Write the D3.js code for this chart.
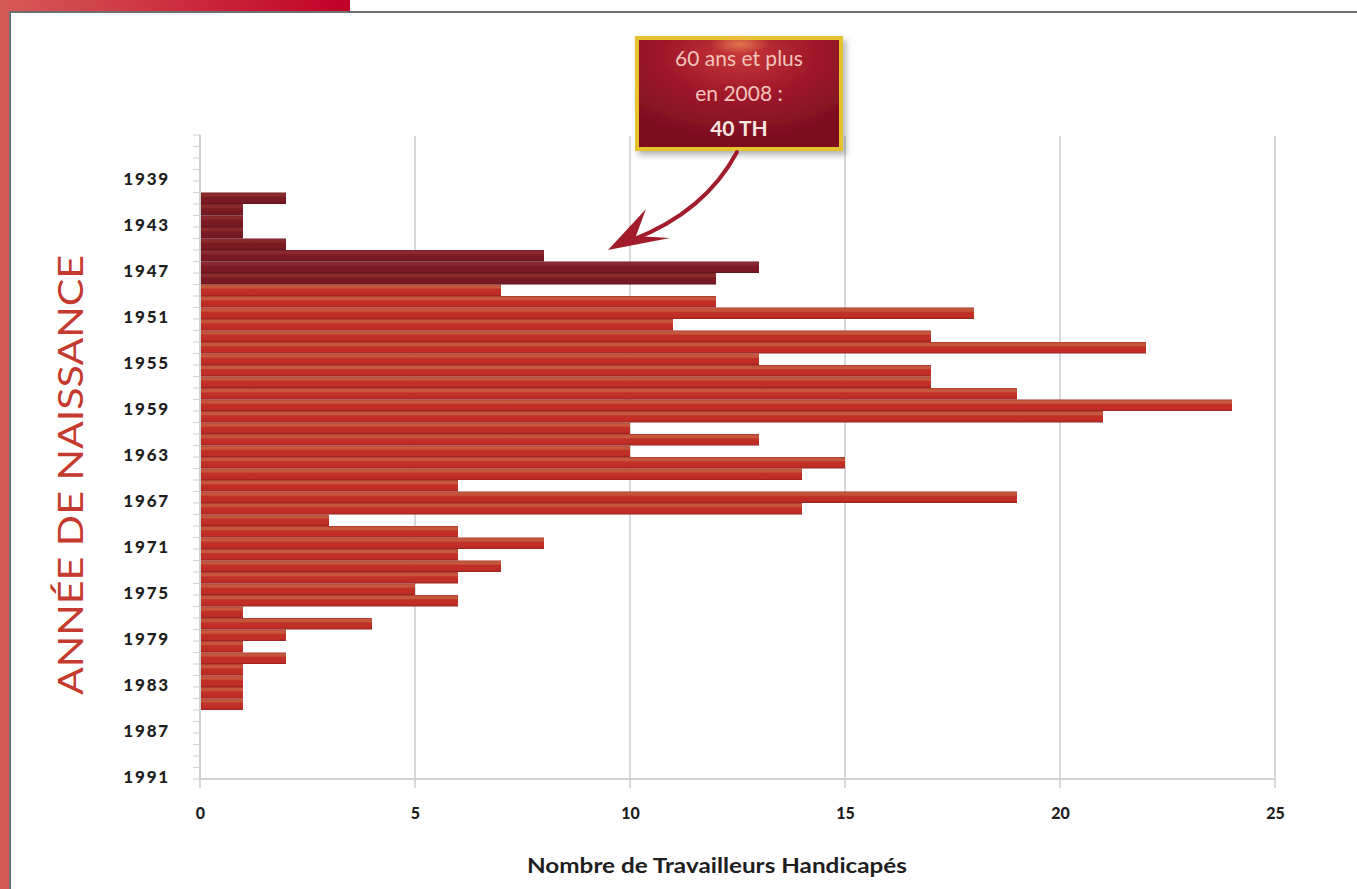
<!DOCTYPE html>
<html>
<head>
<meta charset="utf-8">
<script src="https://cdn.jsdelivr.net/npm/d3@7"></script>
<style>
  html, body { margin: 0; padding: 0; background: #ffffff; }
  svg { display: block; }
</style>
</head>
<body>
<svg id="chart" width="1357" height="889"></svg>
<script>
// ---------- DATA ----------
const categories = [1936,1937,1938,1939,1940,1941,1942,1943,1944,1945,1946,1947,1948,1949,1950,
  1951,1952,1953,1954,1955,1956,1957,1958,1959,1960,1961,1962,1963,1964,1965,1966,1967,1968,
  1969,1970,1971,1972,1973,1974,1975,1976,1977,1978,1979,1980,1981,1982,1983,1984,1985,1986,
  1987,1988,1989,1990,1991];
const yTickLabels = [1939,1943,1947,1951,1955,1959,1963,1967,1971,1975,1979,1983,1987,1991];
const xTickValues = [0,5,10,15,20,25];

// "60 ans et plus en 2008" (born 1948 or earlier)
const seniorYears  = [1941,1942,1943,1944,1945,1946,1947,1948];
const seniorValues = [2,1,1,1,2,8,13,12];

// other workers
const otherYears  = [1949,1950,1951,1952,1953,1954,1955,1956,1957,1958,1959,1960,1961,1962,
  1963,1964,1965,1966,1967,1968,1969,1970,1971,1972,1973,1974,1975,1976,1977,1978,1979,1980,
  1981,1982,1983,1984,1985];
const otherValues = [7,12,18,11,17,22,13,17,17,19,24,21,10,13,10,15,14,6,19,14,3,6,8,6,7,6,5,6,
  1,4,2,1,2,1,1,1,1];

const calloutLines = ["60 ans et plus", "en 2008 :", "40 TH"];
const xTitle = "Nombre de Travailleurs Handicapés";
const yTitle = "ANNÉE DE NAISSANCE";

// ---------- DRAW ----------
const svg = d3.select("#chart");
const defs = svg.append("defs");

// frame decorations
const topGrad = defs.append("linearGradient").attr("id","topGrad").attr("x1","0").attr("x2","1").attr("y1","0").attr("y2","0");
topGrad.append("stop").attr("offset","0%").attr("stop-color","#d65b58");
topGrad.append("stop").attr("offset","100%").attr("stop-color","#c10027");

svg.append("rect").attr("x",0).attr("y",0).attr("width",9).attr("height",889).attr("fill","#d45a58");
svg.append("rect").attr("x",0).attr("y",0).attr("width",350).attr("height",11).attr("fill","url(#topGrad)");
svg.append("rect").attr("x",9).attr("y",11).attr("width",1348).attr("height",2).attr("fill","#6e6e6e");
svg.append("rect").attr("x",9).attr("y",11).attr("width",2).attr("height",878).attr("fill","#6e6e6e");

// bar gradients
function barGrad(id, stops){
  const g = defs.append("linearGradient").attr("id",id).attr("x1","0").attr("x2","0").attr("y1","0").attr("y2","1");
  stops.forEach(s => g.append("stop").attr("offset",s[0]).attr("stop-color",s[1]));
}
barGrad("redGrad", [["0%","#a32e28"],["10%","#c4553c"],["30%","#c5583d"],["42%","#c23127"],["85%","#bf2c26"],["100%","#922321"]]);
barGrad("darkGrad", [["0%","#6e1820"],["10%","#8a2b30"],["30%","#88292e"],["42%","#7a1b24"],["85%","#771a23"],["100%","#5e121b"]]);

const x = d3.scaleLinear().domain([0,25]).range([200,1275]);
const y = d3.scaleBand().domain(categories).range([135,779]).padding(0);

// grid lines
svg.append("g").selectAll("line").data(xTickValues).join("line")
  .attr("x1", d => x(d)).attr("x2", d => x(d))
  .attr("y1", 136).attr("y2", 788)
  .attr("stroke", "#d9d9d9").attr("stroke-width", 2);

// bottom axis line
svg.append("line").attr("x1", x(0)).attr("x2", x(25)).attr("y1", 779).attr("y2", 779)
  .attr("stroke", "#d2d2d2").attr("stroke-width", 2);

// y minor ticks
svg.append("g").selectAll("line").data(categories.concat(["end"])).join("line")
  .attr("x1", 193).attr("x2", 200)
  .attr("y1", d => d === "end" ? y.range()[1] : y(d))
  .attr("y2", d => d === "end" ? y.range()[1] : y(d))
  .attr("stroke", "#d6d6d6").attr("stroke-width", 1.2);

// bars
svg.append("g").selectAll("rect").data(otherYears.map((yr,i)=>({yr, v: otherValues[i]}))).join("rect")
  .attr("x", x(0)).attr("y", d => y(d.yr))
  .attr("width", d => x(d.v) - x(0)).attr("height", y.bandwidth())
  .attr("fill", "url(#redGrad)");
svg.append("g").selectAll("rect").data(seniorYears.map((yr,i)=>({yr, v: seniorValues[i]}))).join("rect")
  .attr("x", x(0)).attr("y", d => y(d.yr))
  .attr("width", d => x(d.v) - x(0)).attr("height", y.bandwidth())
  .attr("fill", "url(#darkGrad)");

// y-axis line
svg.append("line").attr("x1", 200).attr("x2", 200).attr("y1", 135).attr("y2", 779)
  .attr("stroke", "#cfcfcf").attr("stroke-width", 2);

// axes labels via d3 axes
const yAxis = d3.axisLeft(y).tickValues(yTickLabels).tickSize(0).tickPadding(30);
const gy = svg.append("g").attr("transform","translate(200,0)").call(yAxis);
gy.select(".domain").remove();
gy.selectAll("text")
  .attr("font-family","Lato, 'Open Sans', sans-serif").attr("font-weight","900")
  .attr("font-size", 17).attr("fill","#1e1e1e").attr("dy","0.55em")
  .attr("letter-spacing", 1.8);

const xAxis = d3.axisBottom(x).tickValues(xTickValues).tickSize(0).tickPadding(29);
const gx = svg.append("g").attr("transform","translate(0,779)").call(xAxis);
gx.select(".domain").remove();
gx.selectAll("text")
  .attr("font-family","Lato, 'Open Sans', sans-serif").attr("font-weight","900")
  .attr("font-size", 16).attr("fill","#1e1e1e");

// axis titles
svg.append("text").attr("x", 717).attr("y", 873).attr("text-anchor","middle")
  .attr("font-family","Lato, 'Open Sans', sans-serif").attr("font-weight","bold")
  .attr("font-size", 20).attr("fill","#1e1e1e")
  .attr("textLength", 380).attr("lengthAdjust","spacingAndGlyphs")
  .text(xTitle);

svg.append("text").attr("transform","translate(83,475) rotate(-90)").attr("text-anchor","middle")
  .attr("font-family","Lato, 'Open Sans', sans-serif").attr("font-weight","normal")
  .attr("font-size", 35).attr("fill","#c53a2e")
  .attr("textLength", 440).attr("lengthAdjust","spacingAndGlyphs")
  .text(yTitle);

// callout
const boxGrad = defs.append("radialGradient").attr("id","boxGrad").attr("cx","50%").attr("cy","15%").attr("r","75%");
boxGrad.append("stop").attr("offset","0%").attr("stop-color","#c8383a");
boxGrad.append("stop").attr("offset","45%").attr("stop-color","#a31a2c");
boxGrad.append("stop").attr("offset","100%").attr("stop-color","#7d0f1f");
const glow = defs.append("radialGradient").attr("id","glow").attr("cx","50%").attr("cy","50%").attr("r","50%");
glow.append("stop").attr("offset","0%").attr("stop-color","#ffb060").attr("stop-opacity",0.55);
glow.append("stop").attr("offset","100%").attr("stop-color","#ffb060").attr("stop-opacity",0);
const shadow = defs.append("filter").attr("id","sh").attr("x","-10%").attr("y","-10%").attr("width","130%").attr("height","140%");
shadow.append("feDropShadow").attr("dx",3).attr("dy",4).attr("stdDeviation",3).attr("flood-color","#000").attr("flood-opacity",0.3);

svg.append("rect").attr("x",637).attr("y",38).attr("width",204).attr("height",111)
  .attr("fill","url(#boxGrad)").attr("stroke","#e6c22d").attr("stroke-width",4)
  .attr("filter","url(#sh)");
svg.append("ellipse").attr("cx",740).attr("cy",44).attr("rx",30).attr("ry",10).attr("fill","url(#glow)");

svg.append("g").selectAll("text").data(calloutLines).join("text")
  .attr("x", 739).attr("y", (d,i) => 66 + i*35).attr("text-anchor","middle")
  .attr("font-family","Lato, 'Open Sans', sans-serif")
  .attr("font-weight", (d,i) => i === 2 ? "bold" : "normal")
  .attr("font-size", 21)
  .attr("fill", (d,i) => i === 2 ? "#f7e6e0" : "#f2c4bb")
  .text(d => d);

// curved arrow
svg.append("path")
  .attr("d","M737,152 Q705,212 632,240")
  .attr("fill","none").attr("stroke","#a11d2b").attr("stroke-width",4).attr("stroke-linecap","round");
svg.append("path")
  .attr("d","M608,250 L646,209 L636,236 L670,238 Z")
  .attr("fill","#a11d2b");
</script>
</body>
</html>
